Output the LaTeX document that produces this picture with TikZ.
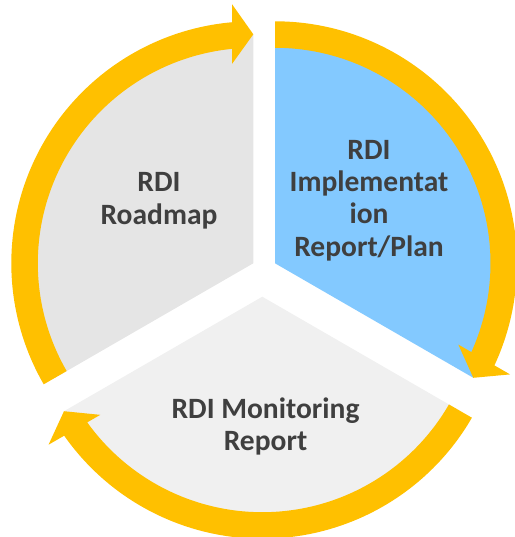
\documentclass[tikz,border=0pt]{standalone}
\usepackage{fontspec}
\setmainfont{Carlito}
\usetikzlibrary{calc}
\definecolor{ringgold}{RGB}{255,192,0}
\definecolor{skyblue}{RGB}{131,201,255}
\definecolor{roadgray}{RGB}{229,229,229}
\definecolor{monigray}{RGB}{240,240,240}
\definecolor{labelgray}{RGB}{63,63,63}
% #1 = centre coordinate, #2 = tip angle (arrow runs clockwise, tail at tip+120)
\newcommand\cycarrow[2]{%
  \fill[ringgold] ($(#1)+({#2+120}:242)$)
    arc[start angle={#2+120}, end angle={#2+5.05}, radius=242]
    -- ($(#1)+({#2+4.7}:260)$)
    -- ($(#1)+({#2}:229)$)
    -- ($(#1)+({#2+6.1}:200.5)$)
    -- ($(#1)+({#2+5.67}:215.5)$)
    arc[start angle={#2+5.67}, end angle={#2+120}, radius=215.5]
    -- cycle;}
\begin{document}
\begin{tikzpicture}[x=1pt,y=1pt,
  sectortext/.style={font=\bfseries\fontsize{29.5}{32.3}\selectfont,
    text=labelgray, align=center, inner sep=0pt}]
\useasboundingbox (0,0) rectangle (514,-537);
\coordinate (A1) at (253.3,-263.3);
\coordinate (A2) at (275,-263.3);
\coordinate (A3) at (262.3,-296.7);
\fill[roadgray] (A1) -- ++(90:229) arc[start angle=90,end angle=210,radius=229] -- cycle;
\fill[skyblue] (A2) -- ++(-30:229) arc[start angle=-30,end angle=90,radius=229] -- cycle;
\fill[monigray] (A3) -- ++(210:229) arc[start angle=210,end angle=330,radius=229] -- cycle;
\cycarrow{A1}{90}
\cycarrow{A2}{-30}
\cycarrow{A3}{210}
\node[sectortext] (roadmap) at (159,-200.7) {RDI\\Roadmap};
\node[sectortext] (implementation) at (369,-200.6) {RDI\\Implementat\\ion\\Report/Plan};
\node[sectortext] (monitoring) at (265.5,-426.3) {RDI Monitoring\\Report};
\end{tikzpicture}
\end{document}
